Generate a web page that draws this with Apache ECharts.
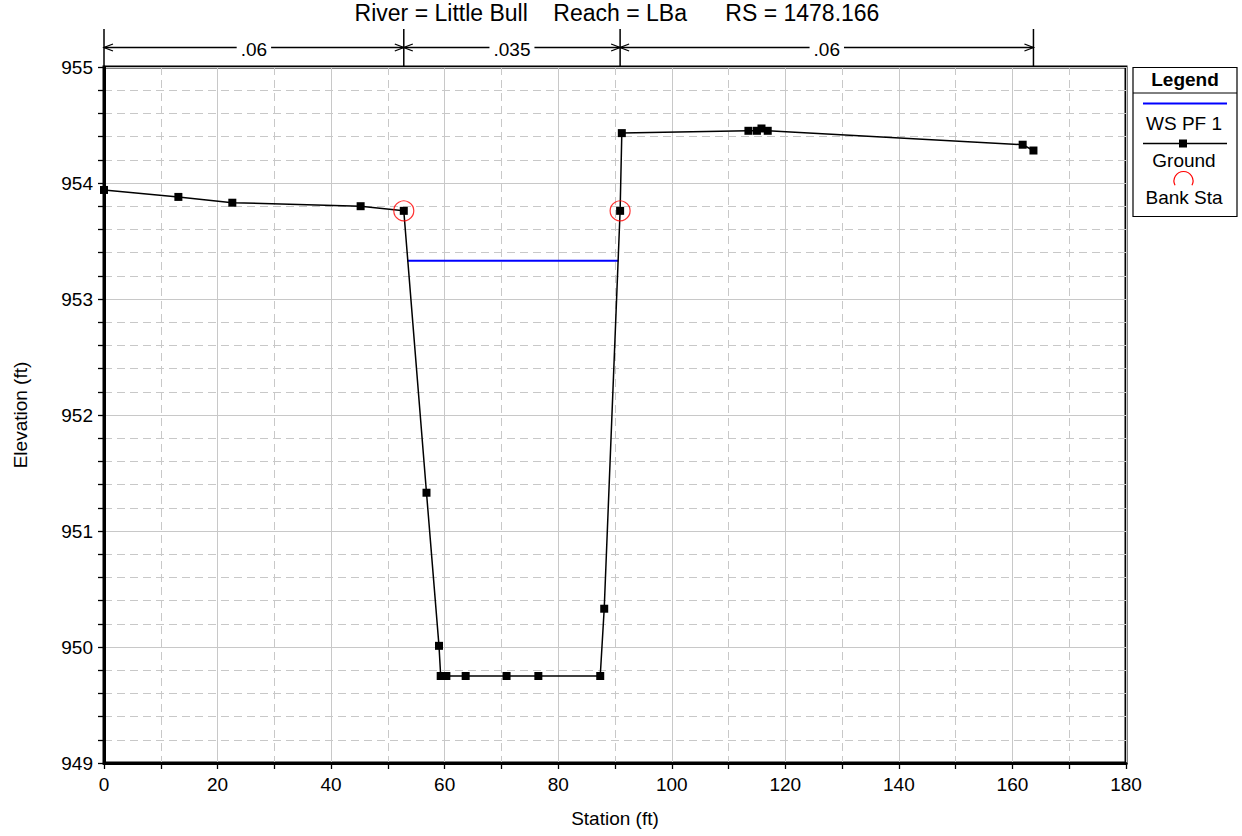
<!DOCTYPE html>
<html>
<head>
<meta charset="utf-8">
<script src="https://cdn.jsdelivr.net/npm/echarts@6/dist/echarts.min.js"></script>
<style>
html,body{margin:0;padding:0;background:#fff;}
#chart{width:1242px;height:836px;}
</style>
</head>
<body>
<div id="chart"></div>
<script>
// ---- data ----
const titleText = 'River = Little Bull    Reach = LBa      RS = 1478.166';
const groundSta  = [0, 13.1, 22.6, 45.2, 52.8, 56.8, 59.0, 59.3, 60.3, 63.7, 70.9, 76.5, 87.4, 88.1, 90.9, 91.2, 113.5, 115.0, 115.8, 116.9, 161.8, 163.7];
const groundElev = [953.94, 953.88, 953.83, 953.80, 953.76, 951.33, 950.01, 949.75, 949.75, 949.75, 949.75, 949.75, 949.75, 950.33, 953.76, 954.43, 954.45, 954.45, 954.47, 954.45, 954.33, 954.28];
const wsSta  = [53.4, 90.6];
const wsElev = [953.33, 953.33];
const bankSta  = [52.8, 90.9];
const bankElev = [953.76, 953.76];
const nStations = [0, 52.8, 90.9, 163.7];
const nValues = ['.06', '.035', '.06'];
const xMin = 0, xMax = 180, xStep = 20;
const yMin = 949, yMax = 955, yStep = 1;

// ---- chart ----
const FONT = '"Liberation Sans", Arial, sans-serif';
const chart = echarts.init(document.getElementById('chart'), null, {renderer: 'svg'});

const zip = (a, b) => a.map((v, i) => [v, b[i]]);

function renderN(params, api) {
  const i = params.dataIndex;
  const a = api.coord([api.value(0), api.value(2)]);
  const b = api.coord([api.value(1), api.value(2)]);
  const yTop = a[1];
  const yl = yTop - 19.5;
  const yv = yTop - 38;
  const st = {stroke: '#000', lineWidth: 1.3, fill: null};
  const ch = [];
  ch.push({type: 'line', shape: {x1: a[0], y1: yv, x2: a[0], y2: yTop}, style: {stroke: '#000', lineWidth: 1.5}});
  if (i === nValues.length - 1) {
    ch.push({type: 'line', shape: {x1: b[0], y1: yv, x2: b[0], y2: yTop}, style: {stroke: '#000', lineWidth: 1.5}});
  }
  ch.push({type: 'line', shape: {x1: a[0], y1: yl, x2: b[0], y2: yl}, style: st});
  ch.push({type: 'polyline', shape: {points: [[a[0] + 9, yl - 3.5], [a[0], yl], [a[0] + 9, yl + 3.5]]}, style: st});
  ch.push({type: 'polyline', shape: {points: [[b[0] - 9, yl - 3.5], [b[0], yl], [b[0] - 9, yl + 3.5]]}, style: st});
  ch.push({type: 'text', x: (a[0] + b[0]) / 2, y: yl + 1.5,
    style: {text: nValues[i], fill: '#000', font: '19px ' + FONT, align: 'center', verticalAlign: 'middle',
      backgroundColor: '#fff', padding: [0, 4]}});
  return {type: 'group', children: ch};
}

const gridLine = {show: true, lineStyle: {color: '#c8c8c8', width: 1}};
const minorLine = {show: true, lineStyle: {color: '#c8c8c8', width: 1, type: [8, 5]}};

chart.setOption({
  animation: false,
  backgroundColor: '#fff',
  textStyle: {fontFamily: FONT},
  grid: {left: 104, right: 116, top: 67, bottom: 73, show: true, borderColor: '#000', borderWidth: 3, containLabel: false},
  xAxis: {
    type: 'value', min: xMin, max: xMax, interval: xStep,
    name: 'Station (ft)', nameLocation: 'middle', nameGap: 46,
    nameTextStyle: {fontSize: 19, color: '#000', fontFamily: FONT},
    axisLine: {show: true, lineStyle: {color: '#000', width: 3}},
    axisTick: {show: true, length: 6, lineStyle: {color: '#000', width: 1.3}},
    minorTick: {show: true, splitNumber: 2, length: 6, lineStyle: {color: '#000', width: 1.3}},
    axisLabel: {fontSize: 19, color: '#000', margin: 12, fontFamily: FONT},
    splitLine: gridLine, minorSplitLine: minorLine
  },
  yAxis: {
    type: 'value', min: yMin, max: yMax, interval: yStep,
    name: 'Elevation (ft)', nameLocation: 'middle', nameGap: 74,
    nameTextStyle: {fontSize: 19, color: '#000', fontFamily: FONT},
    axisLine: {show: true, lineStyle: {color: '#000', width: 3}},
    axisTick: {show: true, length: 6, lineStyle: {color: '#000', width: 1.3}},
    minorTick: {show: true, splitNumber: 5, length: 6, lineStyle: {color: '#000', width: 1.3}},
    axisLabel: {fontSize: 19, color: '#000', margin: 11, fontFamily: FONT},
    splitLine: gridLine, minorSplitLine: minorLine
  },
  series: [
    {name: 'WS PF 1', type: 'line', data: zip(wsSta, wsElev), symbol: 'none',
     lineStyle: {color: '#0000ff', width: 2}, z: 3},
    {name: 'Ground', type: 'line', data: zip(groundSta, groundElev), symbol: 'rect', symbolSize: 8,
     itemStyle: {color: '#000'}, lineStyle: {color: '#000', width: 1.5}, z: 4},
    {name: 'Bank Sta', type: 'scatter', data: zip(bankSta, bankElev), symbol: 'circle', symbolSize: 20,
     itemStyle: {color: 'rgba(0,0,0,0)', borderColor: '#ff0000', borderWidth: 1.2}, z: 5},
    {name: 'n', type: 'custom', clip: false, silent: true, z: 6,
     data: nValues.map((v, i) => [nStations[i], nStations[i + 1], yMax]),
     encode: {x: [0, 1], y: 2}, renderItem: renderN}
  ],
  graphic: [
    {type: 'text', x: 617, y: 1, style: {text: titleText, font: '23px ' + FONT, fill: '#000', align: 'center', verticalAlign: 'top'}},
    {type: 'group', children: [
      {type: 'rect', shape: {x: 1133, y: 67.5, width: 104, height: 149}, style: {fill: '#fff', stroke: '#000', lineWidth: 1.2}},
      {type: 'line', shape: {x1: 1133, y1: 93, x2: 1237, y2: 93}, style: {stroke: '#000', lineWidth: 1}},
      {type: 'text', x: 1185, y: 79.5, style: {text: 'Legend', font: 'bold 19px ' + FONT, fill: '#000', align: 'center', verticalAlign: 'middle'}},
      {type: 'line', shape: {x1: 1143, y1: 103.5, x2: 1227, y2: 103.5}, style: {stroke: '#0000ff', lineWidth: 2}},
      {type: 'text', x: 1184, y: 123.5, style: {text: 'WS PF 1', font: '19px ' + FONT, fill: '#000', align: 'center', verticalAlign: 'middle'}},
      {type: 'line', shape: {x1: 1143, y1: 143.5, x2: 1227, y2: 143.5}, style: {stroke: '#000', lineWidth: 1.5}},
      {type: 'rect', shape: {x: 1179, y: 139.5, width: 8, height: 8}, style: {fill: '#000'}},
      {type: 'text', x: 1184, y: 160.5, style: {text: 'Ground', font: '19px ' + FONT, fill: '#000', align: 'center', verticalAlign: 'middle'}},
      {type: 'arc', shape: {cx: 1183.5, cy: 181, r: 9.5, startAngle: Math.PI * 0.85, endAngle: Math.PI * 2.15, clockwise: true}, style: {stroke: '#ff0000', lineWidth: 1.2, fill: null}},
      {type: 'text', x: 1184, y: 197.5, style: {text: 'Bank Sta', font: '19px ' + FONT, fill: '#000', align: 'center', verticalAlign: 'middle'}}
    ]}
  ]
});
</script>
</body>
</html>
